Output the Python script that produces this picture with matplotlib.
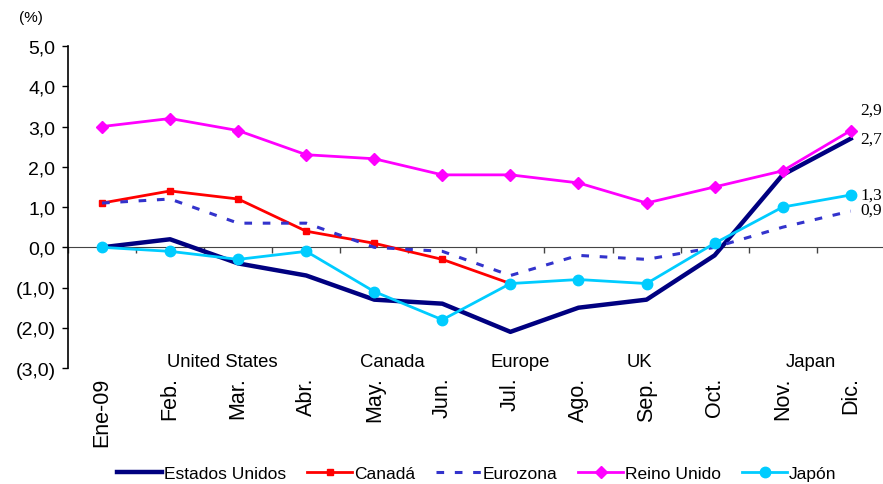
import matplotlib
matplotlib.use("Agg")
import matplotlib.pyplot as plt
from matplotlib.ticker import FuncFormatter

plt.rcParams['font.family'] = ['Liberation Sans', 'DejaVu Sans']

months = ['Ene-09', 'Feb.', 'Mar.', 'Abr.', 'May.', 'Jun.', 'Jul.',
          'Ago.', 'Sep.', 'Oct.', 'Nov.', 'Dic.']
usa = [0.0, 0.2, -0.4, -0.7, -1.3, -1.4, -2.1, -1.5, -1.3, -0.2, 1.8, 2.7]
canada = [1.1, 1.4, 1.2, 0.4, 0.1, -0.3, -0.9]
euro = [1.1, 1.2, 0.6, 0.6, 0.0, -0.1, -0.7, -0.2, -0.3, 0.0, 0.5, 0.9]
uk = [3.0, 3.2, 2.9, 2.3, 2.2, 1.8, 1.8, 1.6, 1.1, 1.5, 1.9, 2.9]
japan = [0.0, -0.1, -0.3, -0.1, -1.1, -1.8, -0.9, -0.8, -0.9, 0.1, 1.0, 1.3]

regions = ['United States', 'Canada', 'Europe', 'UK', 'Japan']
region_x = [1.76, 4.26, 6.15, 7.9, 10.41]

x = list(range(len(months)))

fig = plt.figure(figsize=(8.83, 4.85), dpi=100)
ax = fig.add_axes([0.077, 0.239, 0.925, 0.664])

ax.plot(x, usa, color='#000080', lw=3.2, label='Estados Unidos')
ax.plot(x[:len(canada)], canada, color='#FF0000', lw=2, marker='s', ms=5,
        label='Canadá')
ax.plot(x, euro, color='#3333CC', lw=2.2, ls=(0, (2.5, 3.5)), label='Eurozona')
ax.plot(x, uk, color='#FF00FF', lw=2, marker='D', ms=6, label='Reino Unido')
ax.plot(x, japan, color='#00CCFF', lw=2, marker='o', ms=7.5, label='Japón')

ax.set_xlim(-0.5, 11.5)
ax.set_ylim(-3, 5)
ax.set_yticks(range(-3, 6))

def fmt(v, pos):
    s = f'{abs(v):.1f}'.replace('.', ',')
    return f'({s})' if v < 0 else s

ax.yaxis.set_major_formatter(FuncFormatter(fmt))
ax.tick_params(axis='y', direction='out', length=4, width=1, labelsize=14, pad=5)

ax.set_xticks(x)
ax.set_xticklabels(months, rotation=90, fontsize=15.5)
ax.tick_params(axis='x', length=0, pad=6)

for s in ['top', 'right', 'bottom']:
    ax.spines[s].set_visible(False)
ax.spines['left'].set_linewidth(1.2)

# zero line with category separators
zero = ax.secondary_xaxis(3 / 8)
zero.set_xticks([i - 0.5 for i in range(13)])
zero.set_xticklabels([])
zero.tick_params(direction='out', length=4, width=1, color='#444444')
zero.spines['bottom'].set_color('#444444')

for name, px in zip(regions, region_x):
    ax.text(px, -2.84, name, ha='center', va='center', fontsize=13.3)

serif = ['Liberation Serif', 'DejaVu Serif']
ax.annotate('2,9', (11, uk[-1]), xytext=(7, 15), textcoords='offset points',
            va='center', fontsize=12.5, family=serif, annotation_clip=False)
ax.annotate('2,7', (11, usa[-1]), xytext=(7, 0), textcoords='offset points',
            va='center', fontsize=12.5, family=serif, annotation_clip=False)
ax.annotate('1,3', (11, japan[-1]), xytext=(7, 0), textcoords='offset points',
            va='center', fontsize=12.5, family=serif, annotation_clip=False)
ax.annotate('0,9', (11, euro[-1]), xytext=(7, 1), textcoords='offset points',
            va='center', fontsize=12.5, family=serif, annotation_clip=False)

fig.text(0.022, 0.963, '(%)', fontsize=11, va='center')

fig.legend(loc='center', bbox_to_anchor=(0.54, 0.021), ncol=5, frameon=False,
           fontsize=12.5, handlelength=2.6, handletextpad=0.1, columnspacing=1.2)

fig.savefig('out.png', dpi=100)
